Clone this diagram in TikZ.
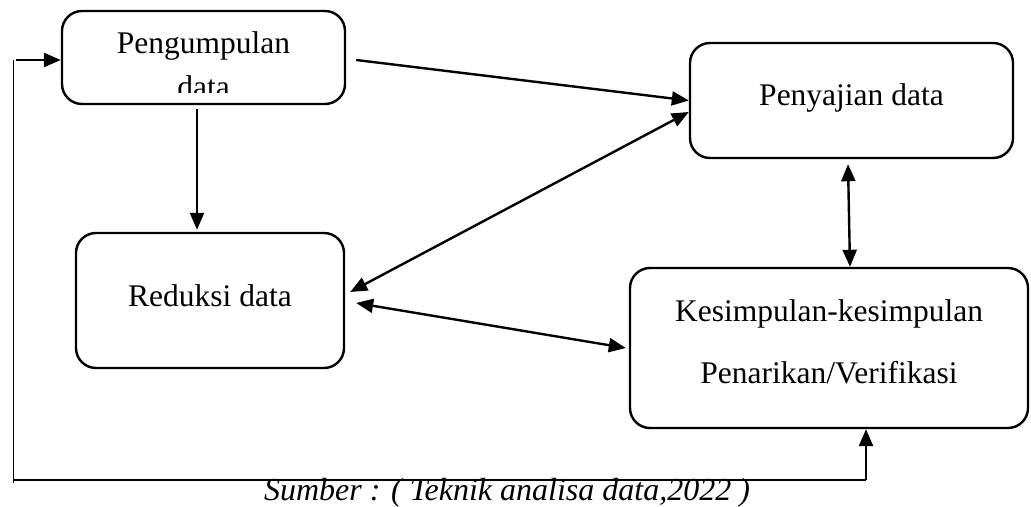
\documentclass[tikz,border=0pt]{standalone}
\usepackage{fontspec}
\setmainfont{Liberation Serif}
\usepackage{tikz}
\usetikzlibrary{arrows.meta}

\begin{document}
\begin{tikzpicture}[x=0.5pt,y=-0.5pt,
box/.style={draw,line width=1.2pt,rounded corners=10pt,inner sep=0pt,font=\fontsize{15.75}{18}\selectfont},
lbl/.style={anchor=base,inner sep=0pt,font=\fontsize{15.75}{18}\selectfont},
arr/.style={line width=1.2pt,-{Triangle[length=8.5pt,width=7pt]}},
darr/.style={line width=1.2pt,{Triangle[length=8.5pt,width=7pt]}-{Triangle[length=8.5pt,width=7pt]}}]
\useasboundingbox (0,0) rectangle (1031,507);
\node[box,minimum width=141.5pt,minimum height=46.5pt](p1)at(203.5,57.5){};
\node[lbl](t1)at(203.5,54){Pengumpulan};
\begin{scope}
\clip (62,11) rectangle (345,93);
\node[lbl](t2)at(203.5,98){data};
\end{scope}
\node[box,text depth=6.3pt,minimum width=161.5pt,minimum height=57.5pt](p2)at(851.5,100.5){Penyajian data};
\node[box,text depth=5pt,minimum width=134pt,minimum height=67.5pt](p3)at(210,300.5){Reduksi data};
\node[box,align=center,text depth=6pt,font=\fontsize{15.75}{31}\selectfont,minimum width=199pt,minimum height=80pt](p4)at(829,348){Kesimpulan-kesimpulan\\Penarikan/Verifikasi};
% connectors
\draw[arr]([xshift=5pt,yshift=-1.25pt]p1.east)--(p2.west);
\draw[darr]([yshift=-5.75pt]p2.west)--([xshift=2.5pt,yshift=4.25pt]p3.east);
\draw[darr]([xshift=5.5pt,yshift=-1.25pt]p3.east)--([xshift=-1.5pt]p4.west);
\draw[darr]([xshift=-1.75pt,yshift=-2.5pt]p2.south)--([xshift=10.5pt]p4.north);
\draw[arr]([xshift=-3.25pt,yshift=-2pt]p1.south)--([xshift=-6.5pt,yshift=1pt]p3.north);
% feedback
\coordinate (fbr) at (866,480);
\coordinate (fbl) at (13,480);
\coordinate (fbt) at (13,60);
\draw[arr](fbr)--(fbr|-p4.south);
\draw[line width=0.7pt](fbr)--(fbl);
\draw[line width=0.5pt]([yshift=-1.5pt]fbl)--(fbt);
\draw[arr]([xshift=1.5pt]fbt)--(fbt-|p1.west);
\node[lbl,font=\fontsize{16}{18}\selectfont\itshape](src)at(507,500){Sumber : ( Teknik analisa data,2022 )};
\end{tikzpicture}
\end{document}
